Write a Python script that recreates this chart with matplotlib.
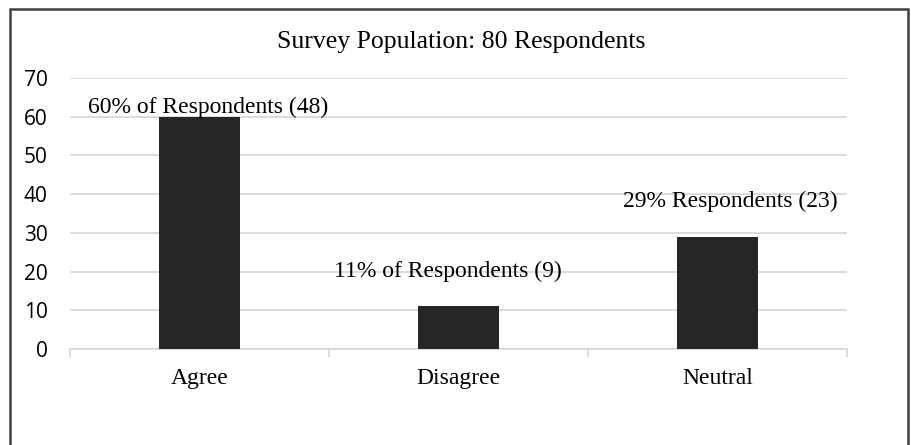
import matplotlib.pyplot as plt
from matplotlib.patches import Rectangle

categories = ['Agree', 'Disagree', 'Neutral']
percentages = [60, 11, 29]
labels = ['60% of Respondents (48)', '11% of Respondents (9)', '29% Respondents (23)']
title = 'Survey Population: 80 Respondents'
yticks = [0, 10, 20, 30, 40, 50, 60, 70]

# label offsets in pixels (dx, dy) from the top of each bar
label_offsets = [(9, 9), (-11, 35), (13, 35)]

fig = plt.figure(figsize=(9.11, 4.45), dpi=100)
fig.patches.append(Rectangle((9.5 / 911, -0.1), 898 / 911, 1.1 - 9.5 / 445,
                             transform=fig.transFigure, fill=False,
                             edgecolor='#404040', linewidth=1.8))

ax = fig.add_axes([70 / 911, 1 - 349 / 445, 777 / 911, 271 / 445])
x = range(len(categories))
ax.bar(x, percentages, width=0.315, color='#262626', zorder=3)

ax.set_xlim(-0.5, len(categories) - 0.5)
ax.set_ylim(0, 70)
ax.set_yticks(yticks)
ax.yaxis.grid(True, color='#d9d9d9', linewidth=1.3, zorder=0)
for s in ['top', 'right', 'left']:
    ax.spines[s].set_visible(False)
ax.spines['bottom'].set_color('#d9d9d9')
ax.spines['bottom'].set_linewidth(1.3)

ax.set_xticks(list(x))
ax.set_xticklabels(categories, family='Liberation Serif', fontsize=17)
ax.set_xticks([i - 0.5 for i in range(len(categories) + 1)], minor=True)
ax.tick_params(axis='x', which='major', length=0, pad=14)
ax.tick_params(axis='x', which='minor', length=6, color='#d9d9d9', width=1.3)
ax.tick_params(axis='y', length=0, pad=16)
ax.set_yticklabels([str(v) for v in yticks], family='Open Sans', fontsize=15)

for i, (val, lab) in enumerate(zip(percentages, labels)):
    dx, dy = label_offsets[i]
    ax.annotate(lab, (i, val), xytext=(dx * 0.72, dy * 0.72), textcoords='offset points',
                ha='center', va='center', family='Liberation Serif', fontsize=17, zorder=4)

fig.text(461 / 911, 1 - 42 / 445, title, ha='center', va='center',
         family='Liberation Serif', fontsize=18.5)

fig.savefig('out.png', dpi=100)
